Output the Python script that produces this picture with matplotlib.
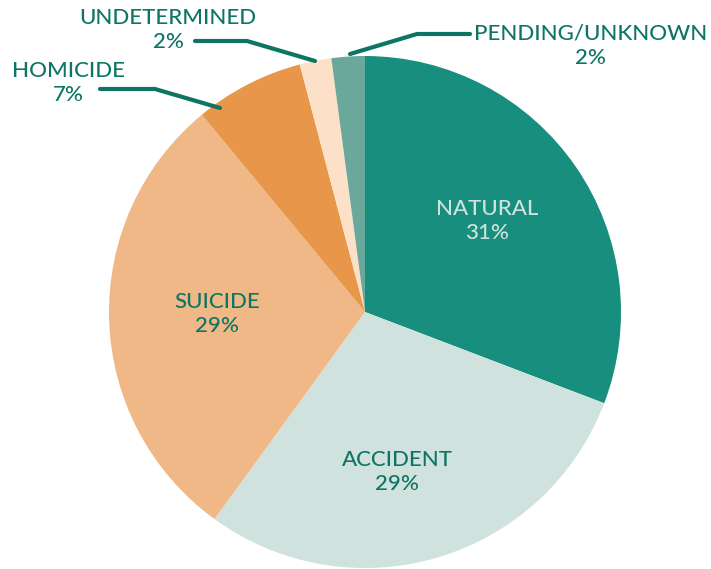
import matplotlib
matplotlib.use("Agg")
import matplotlib.pyplot as plt

categories = ["NATURAL", "ACCIDENT", "SUICIDE", "HOMICIDE", "UNDETERMINED", "PENDING/UNKNOWN"]
values = [30.8, 29.2, 29.0, 6.9, 2.0, 2.1]
labels_pct = ["31%", "29%", "29%", "7%", "2%", "2%"]
colors = ["#178E7E", "#D0E2DD", "#F0B886", "#E8974A", "#FCE0C8", "#6BA89C"]

TEAL = "#0E7565"
W, H = 711, 569
plt.rcParams['font.family'] = ['Lato', 'DejaVu Sans']

fig = plt.figure(figsize=(W / 100, H / 100), dpi=100)
ax = fig.add_axes([0, 0, 1, 1])

def Y(yp):
    return H - yp

ax.pie(values, colors=colors, startangle=90, counterclock=False,
       center=(365, Y(312)), radius=256, frame=True,
       wedgeprops=dict(linewidth=0))
ax.set_xlim(0, W)
ax.set_ylim(0, H)
ax.set_aspect('equal')
ax.axis('off')

fs = 16
kw = dict(ha='center', va='center', fontsize=fs, fontweight='medium', linespacing=1.3)
# inside labels
inside = {0: (487, 221, "#D0E2DD"), 1: (397, 472, TEAL), 2: (217, 314, TEAL)}
for i, (x, y, c) in inside.items():
    ax.text(x, Y(y), f"{categories[i]}\n{labels_pct[i]}", color=c, **kw)

# outside labels
outside = {3: (68, 83), 4: (168, 30), 5: (591, 46)}
for i, (x, y) in outside.items():
    ax.text(x, Y(y), f"{categories[i]}\n{labels_pct[i]}", color=TEAL, **kw)

leaders = [
    [(100, 89), (155, 89), (220, 108)],
    [(195, 41), (247, 41), (315, 61)],
    [(470, 34), (417, 34), (350, 54)],
]
for pts in leaders:
    ax.plot([p[0] for p in pts], [Y(p[1]) for p in pts], color=TEAL, lw=3,
            solid_capstyle='round', solid_joinstyle='round')

fig.savefig("out.png", dpi=100, facecolor="white")
